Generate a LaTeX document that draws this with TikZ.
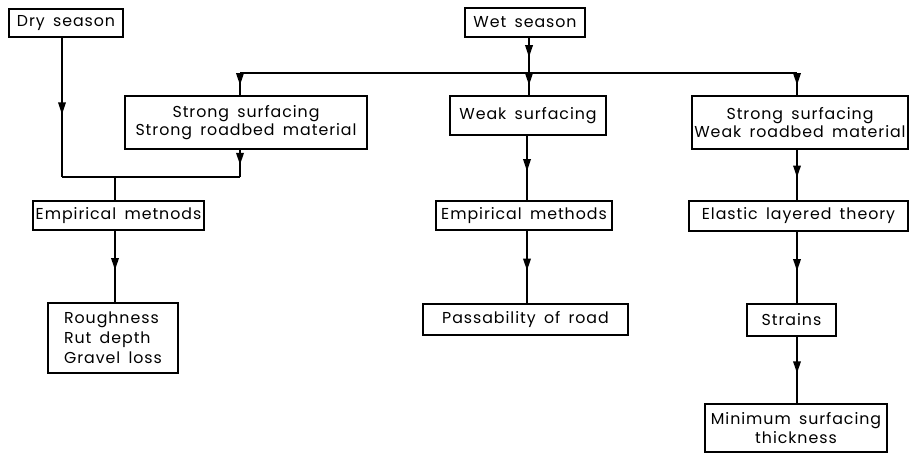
\documentclass[tikz,border=0pt]{standalone}
\usepackage{fontspec}
\setmainfont{Poppins}[LetterSpace=6,WordSpace=1.6]
\usetikzlibrary{arrows.meta,decorations.markings}

\tikzset{
  box/.style={draw, line width=1.1pt, align=center, inner sep=0pt,
    font=\fontsize{9}{10.5}\selectfont},
  link/.style={line width=1pt},
  midarrow/.style={postaction={decorate}, decoration={markings,
    mark=at position 0.55 with {\arrow{Triangle[length=2.4mm,width=1.5mm]}}}},
}

\begin{document}
\begin{tikzpicture}[x=0.02cm, y=-0.02cm]
    \useasboundingbox (0,0) rectangle (910,453);
    % top row
    \node[box, minimum width=2.28cm, minimum height=0.56cm] (dry) at (66,23) {Dry season};
    \node[box, minimum width=2.4cm, minimum height=0.58cm] (wet) at (525,22.5) {Wet season};
    % surfacing cases
    \node[box, minimum width=4.84cm, minimum height=1.06cm] (strong) at (246,122.5) {Strong surfacing\\Strong roadbed material};
    \node[box, minimum width=3.12cm, minimum height=0.78cm] (weak) at (528,115.5) {Weak surfacing};
    \node[box, minimum width=4.32cm, minimum height=1.06cm] (strweak) at (800,122.5) {Strong surfacing\\Weak roadbed material};
    % methods
    \node[box, minimum width=3.42cm, minimum height=0.58cm] (emp1) at (118.5,215.5) {Empirical metnods};
    \node[box, minimum width=3.52cm, minimum height=0.58cm] (emp2) at (524,215.5) {Empirical methods};
    \node[box, minimum width=4.38cm, minimum height=0.6cm] (elastic) at (798.5,216) {Elastic layered theory};
    % results
    \node[box, align=left, minimum width=2.6cm, minimum height=1.4cm,
      font=\fontsize{9}{11.5}\selectfont] (rough) at (113,338) {Roughness\\Rut depth\\Gravel loss};
    \node[box, minimum width=4.1cm, minimum height=0.62cm] (pass) at (525.5,319.5) {Passability of road};
    \node[box, minimum width=1.78cm, minimum height=0.64cm] (strains) at (791.5,320) {Strains};
    \node[box, minimum width=3.64cm, minimum height=0.96cm] (minimum) at (796,428) {Minimum surfacing\\thickness};

    \coordinate (jwet) at (529,73);
    \coordinate (busL) at (240,73);
    \coordinate (busR) at (797,73);
    \coordinate (jdry) at (62,177);
    \coordinate (jstrong) at (240,177);
    \coordinate (jemp) at (115,177);
    \coordinate (jmid) at (527,177);

    % wet season branches
    \draw[link, midarrow] (jwet |- wet.south) -- (jwet);
    \draw[link, midarrow] (jwet) -- (jwet |- weak.north);
    \draw[link] (busL) -- (busR);
    \draw[link, midarrow] (busL) -- (busL |- strong.north);
    \draw[link, midarrow] (busR) -- (busR |- strweak.north);
    % left column
    \draw[link, midarrow] (jdry |- dry.south) -- (jdry);
    \draw[link] (jdry) -- (jstrong);
    \draw[link, midarrow] (jstrong |- strong.south) -- (jstrong);
    \draw[link] (jemp) -- (jemp |- emp1.north);
    \draw[link, midarrow] (jemp |- emp1.south) -- (jemp |- rough.north);
    % middle column
    \draw[link, midarrow] (jmid |- weak.south) -- (jmid |- emp2.north);
    \draw[link, midarrow] (jmid |- emp2.south) -- (jmid |- pass.north);
    % right column
    \draw[link, midarrow] (busR |- strweak.south) -- (busR |- elastic.north);
    \draw[link, midarrow] (busR |- elastic.south) -- (busR |- strains.north);
    \draw[link, midarrow] (busR |- strains.south) -- (busR |- minimum.north);
\end{tikzpicture}
\end{document}
